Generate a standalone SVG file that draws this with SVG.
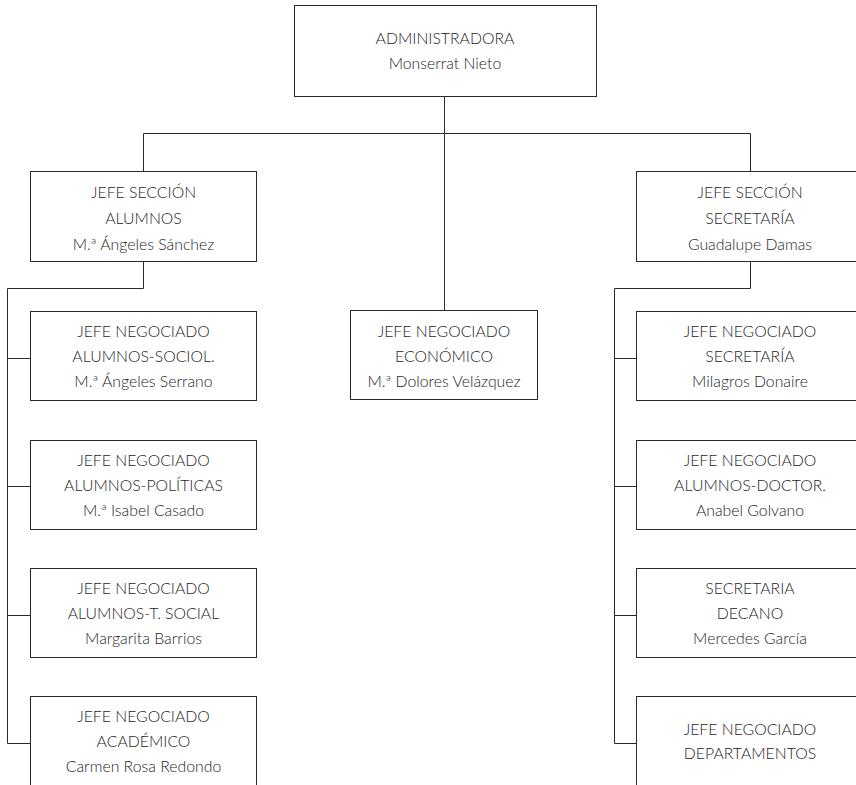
<svg xmlns="http://www.w3.org/2000/svg" width="856" height="785" viewBox="0 0 856 785">
<style>
rect.box{fill:#fff;stroke:#2b2b2b;stroke-width:1}
.c{fill:none;stroke:#2b2b2b;stroke-width:1}
text{font-family:Lato,"Open Sans","Liberation Sans",sans-serif;font-weight:300;font-size:15.8px;fill:#1e1e1e;text-anchor:middle}
</style>
<rect width="856" height="785" fill="#fff"/>
<g id="connectors">
<path class="c" d="M444.5 96.5V133.5M143.5 133.5H750.5M143.5 133.5V171.5M750.5 133.5V171.5M444.5 133.5V310.5"/>
<path class="c" d="M143.5 261.5V288.5H7.5V743.5M7.5 358.5H30M7.5 486.5H30M7.5 615.5H30M7.5 743.5H30"/>
<path class="c" d="M750.5 261.5V288.5H614.5V743.5M614.5 358.5H636M614.5 486.5H636M614.5 615.5H636M614.5 743.5H636"/>
</g>
<g id="n-admin"><rect class="box" x="294.5" y="5.5" width="302" height="91"/><text x="445" y="43.5">ADMINISTRADORA</text><text x="445" y="68.5">Monserrat Nieto</text></g>
<g id="n-alumnos"><rect class="box" x="30.5" y="171.5" width="226" height="90"/><text x="143.5" y="197.5">JEFE SECCIÓN</text><text x="143.5" y="223.5">ALUMNOS</text><text x="143.5" y="249.5">M.ª Ángeles Sánchez</text></g>
<g id="n-secretaria"><rect class="box" x="636.5" y="171.5" width="226" height="90"/><text x="750" y="197.5">JEFE SECCIÓN</text><text x="750" y="223.5">SECRETARÍA</text><text x="750" y="249.5">Guadalupe Damas</text></g>
<g id="n-economico"><rect class="box" x="350.5" y="310.5" width="187" height="89"/><text x="444" y="336.5">JEFE NEGOCIADO</text><text x="444" y="362">ECONÓMICO</text><text x="444" y="387">M.ª Dolores Velázquez</text></g>
<g id="n-sociol"><rect class="box" x="30.5" y="311.5" width="226" height="89"/><text x="143.5" y="336.5">JEFE NEGOCIADO</text><text x="143.5" y="362">ALUMNOS-SOCIOL.</text><text x="143.5" y="387">M.ª Ángeles Serrano</text></g>
<g id="n-politicas"><rect class="box" x="30.5" y="440.5" width="226" height="89"/><text x="143.5" y="465.5">JEFE NEGOCIADO</text><text x="143.5" y="491">ALUMNOS-POLÍTICAS</text><text x="143.5" y="516">M.ª Isabel Casado</text></g>
<g id="n-tsocial"><rect class="box" x="30.5" y="568.5" width="226" height="89"/><text x="143.5" y="593.5">JEFE NEGOCIADO</text><text x="143.5" y="619">ALUMNOS-T. SOCIAL</text><text x="143.5" y="644">Margarita Barrios</text></g>
<g id="n-academico"><rect class="box" x="30.5" y="696.5" width="226" height="90"/><text x="143.5" y="721.5">JEFE NEGOCIADO</text><text x="143.5" y="747">ACADÉMICO</text><text x="143.5" y="772">Carmen Rosa Redondo</text></g>
<g id="n-neg-secretaria"><rect class="box" x="636.5" y="311.5" width="226" height="89"/><text x="750" y="336.5">JEFE NEGOCIADO</text><text x="750" y="362">SECRETARÍA</text><text x="750" y="387">Milagros Donaire</text></g>
<g id="n-doctor"><rect class="box" x="636.5" y="440.5" width="226" height="89"/><text x="750" y="465.5">JEFE NEGOCIADO</text><text x="750" y="491">ALUMNOS-DOCTOR.</text><text x="750" y="516">Anabel Golvano</text></g>
<g id="n-decano"><rect class="box" x="636.5" y="568.5" width="226" height="89"/><text x="750" y="593.5">SECRETARIA</text><text x="750" y="619">DECANO</text><text x="750" y="644">Mercedes García</text></g>
<g id="n-departamentos"><rect class="box" x="636.5" y="696.5" width="226" height="90"/><text x="750" y="735">JEFE NEGOCIADO</text><text x="750" y="759">DEPARTAMENTOS</text></g>
</svg>
